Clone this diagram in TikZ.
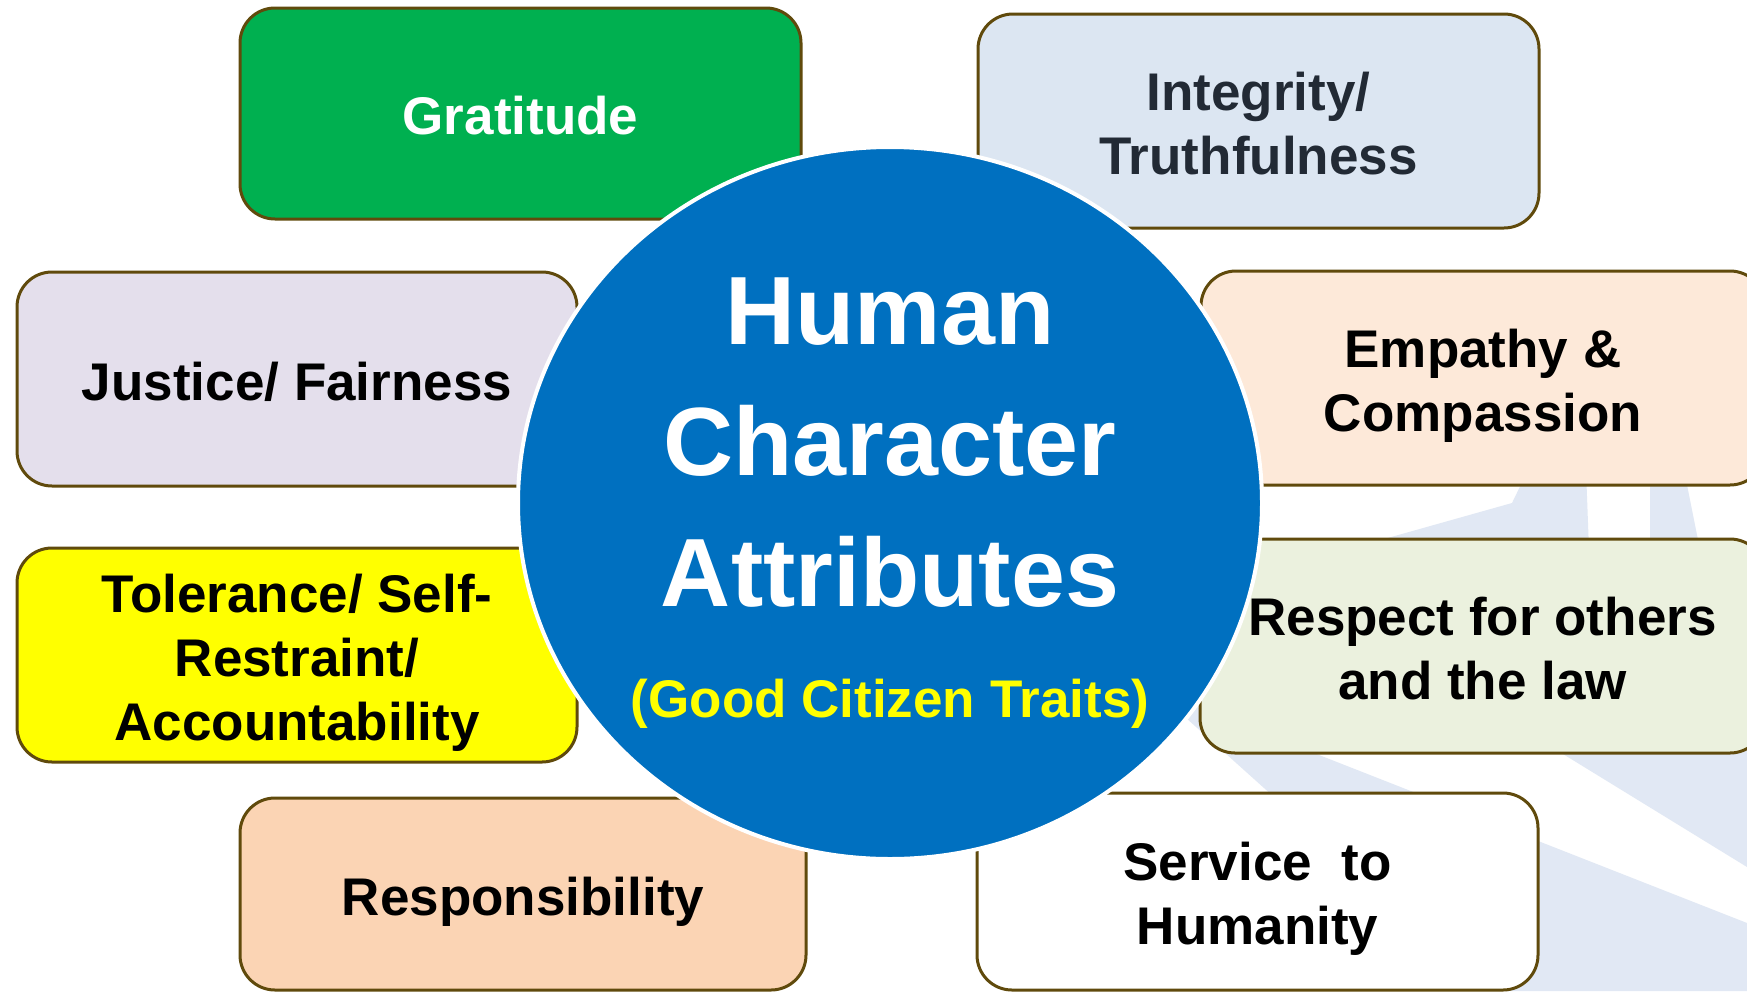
\documentclass[tikz,border=0pt]{standalone}
\usepackage{fontspec}
\setmainfont{Liberation Sans}
\usetikzlibrary{shapes.geometric}
\definecolor{bordc}{HTML}{604A0C}
\definecolor{hubblue}{HTML}{0070C0}
\definecolor{wmark}{HTML}{E1E8F4}
\definecolor{cGrat}{HTML}{00B050}
\definecolor{cInteg}{HTML}{DCE6F2}
\definecolor{cIntegText}{HTML}{222A35}
\definecolor{cJust}{HTML}{E4DFEC}
\definecolor{cEmp}{HTML}{FDE9D9}
\definecolor{cTol}{HTML}{FFFF00}
\definecolor{cResp}{HTML}{EBF1DE}
\definecolor{cRsb}{HTML}{FBD4B4}
\newcommand\bxt{\rule{0pt}{54pt}}
\newcommand\bxb{\rule[-12pt]{0pt}{1pt}}
\begin{document}
\begin{tikzpicture}[x=1pt,y=-1pt,
  attrbox/.style={draw=bordc, line width=3pt, rounded corners=35pt, inner sep=0pt,
    align=center, minimum width=561pt, minimum height=214pt,
    font=\bfseries\fontsize{53}{64}\selectfont},
  wm/.style={fill=wmark, draw=none}]
\useasboundingbox (0,0) rectangle (1747,991);
\fill[white] (0,0) rectangle (1747,991);
% watermark rays
\fill[wm] (1156,691) -- (1490,991) -- (1747,991) -- (1747,923) -- cycle;
\fill[wm] (1475,700) -- (1747,867) -- (1747,700) -- cycle;
\fill[wm] (1528,470) -- (1586,470) -- (1589,550) -- (1345,550) -- (1512,503) -- cycle;
\fill[wm] (1650,470) -- (1684,470) -- (1700,550) -- (1650,550) -- cycle;
% attribute boxes
\node[attrbox, fill=cGrat, text=white, minimum height=211pt] (grat) at (520.5,113.5) {\bxt Gratitude\bxb};
\node[attrbox, fill=cInteg, text=cIntegText] (integ) at (1258.5,121) {\bxt Integrity/\\ Truthfulness\bxb};
\node[attrbox, fill=cJust, minimum width=560pt] (just) at (297,379) {\bxt Justice/ Fairness\bxb};
\node[attrbox, fill=cEmp, minimum width=564pt] (emp) at (1483,378) {\bxt Empathy \&\\ Compassion\bxb};
\node[attrbox, fill=cTol, minimum width=560pt] (tol) at (297,655) {\bxt Tolerance/ Self-\\ Restraint/\\ Accountability\bxb};
\node[attrbox, fill=cResp, minimum width=565pt] (resp) at (1482.5,646) {\bxt Respect for others\\ and the law\bxb};
\node[attrbox, fill=cRsb, minimum width=566pt, minimum height=192pt] (rsb) at (523,894) {\bxt Responsibility\bxb};
\node[attrbox, fill=white, minimum height=197pt] (serv) at (1257.5,891.5) {\bxt Service~~to\\ Humanity\bxb};
% hub
\node[ellipse, fill=hubblue, draw=white, line width=4pt, minimum width=744pt, minimum height=712pt, inner sep=0pt] (hub) at (890,503) {};
\node[text=white, align=center, inner sep=0pt, font=\bfseries\fontsize{97}{131}\selectfont] (title) at (890,450) {\rule[-20pt]{0pt}{90pt}Human\\ Character\\ Attributes\rule[-20pt]{0pt}{1pt}};
\node[text=cTol, anchor=base, inner sep=0pt, font=\bfseries\fontsize{53}{64}\selectfont] (sub) at (890,717) {(Good Citizen Traits)};
\end{tikzpicture}
\end{document}
